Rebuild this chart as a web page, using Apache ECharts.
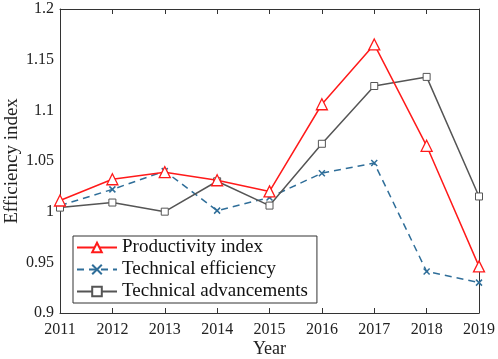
<!DOCTYPE html>
<html><head><meta charset="utf-8">
<script src="https://cdn.jsdelivr.net/npm/echarts@6/dist/echarts.min.js"></script>
<style>html,body{margin:0;padding:0;background:#fff}#c{width:498px;height:359px}</style>
</head><body><div id="c"></div>
<script>
const years = ['2011','2012','2013','2014','2015','2016','2017','2018','2019'];
const productivityIndex = [1.011, 1.032, 1.039, 1.031, 1.020, 1.106, 1.165, 1.065, 0.946];
const technicalEfficiency = [1.006, 1.022, 1.040, 1.001, 1.014, 1.038, 1.048, 0.941, 0.930];
const technicalAdvancements = [1.004, 1.009, 1.000, 1.030, 1.006, 1.067, 1.124, 1.133, 1.015];
const yTicks = [0.9, 0.95, 1, 1.05, 1.1, 1.15, 1.2];

const font = '"Liberation Serif", "Times New Roman", serif';
const chart = echarts.init(document.getElementById('c'));
const axisLine = {show: true, lineStyle: {color: '#333', width: 1}};
chart.setOption({
  animation: false,
  textStyle: {fontFamily: font},
  grid: {left: 60, right: 19, top: 9, bottom: 46, outerBoundsMode: 'none', containLabel: false},
  xAxis: [{
    type: 'category', data: years, boundaryGap: false,
    axisLine: axisLine,
    axisTick: {inside: true, length: 5, alignWithLabel: true, lineStyle: {color: '#333'}},
    axisLabel: {fontFamily: font, fontSize: 16, color: '#222', margin: 9},
    name: 'Year', nameLocation: 'middle', nameGap: 27, nameMoveOverlap: false,
    nameTextStyle: {fontFamily: font, fontSize: 18, color: '#222'}
  }, {
    type: 'category', data: years, boundaryGap: false, position: 'top',
    axisLine: axisLine,
    axisTick: {inside: true, length: 5, lineStyle: {color: '#333'}},
    axisLabel: {show: false}
  }],
  yAxis: [{
    type: 'value', min: 0.9, max: 1.2, interval: 0.05,
    axisLine: axisLine, splitLine: {show: false},
    axisTick: {inside: true, length: 5, lineStyle: {color: '#333'}},
    axisLabel: {fontFamily: font, fontSize: 16, color: '#222', margin: 6,
      formatter: v => { const t = yTicks.find(x => Math.abs(x - v) < 1e-6); return t === undefined ? '' : String(t); }},
    name: 'Efficiency index', nameLocation: 'middle', nameGap: 38, nameMoveOverlap: false,
    nameTextStyle: {fontFamily: font, fontSize: 19, color: '#222'}
  }, {
    type: 'value', min: 0.9, max: 1.2, interval: 0.05, position: 'right',
    axisLine: axisLine, splitLine: {show: false},
    axisTick: {inside: true, length: 5, lineStyle: {color: '#333'}},
    axisLabel: {show: false}
  }],
  legend: {
    orient: 'vertical', left: 73, top: 236,
    padding: [2, 9, 2, 3], itemGap: 3,
    itemWidth: 40, itemHeight: 12,
    backgroundColor: '#fff', borderColor: '#333', borderWidth: 1, borderRadius: 0,
    textStyle: {fontFamily: font, fontSize: 19, color: '#111'},
    data: ['Productivity index', 'Technical efficiency', 'Technical advancements']
  },
  series: [{
    name: 'Productivity index', type: 'line', data: productivityIndex,
    symbol: 'triangle', symbolSize: 11,
    lineStyle: {color: '#ff1a1a', width: 1.5},
    itemStyle: {color: '#fff', borderColor: '#ff1a1a', borderWidth: 1.3},
    z: 5
  }, {
    name: 'Technical efficiency', type: 'line', data: technicalEfficiency,
    symbol: 'path://M0,0L10,10M10,0L0,10', symbolSize: 6,
    lineStyle: {color: '#2f6e99', width: 1.5, type: [7, 5]},
    itemStyle: {color: 'none', borderColor: '#2f6e99', borderWidth: 1.5},
    z: 3
  }, {
    name: 'Technical advancements', type: 'line', data: technicalAdvancements,
    symbol: 'rect', symbolSize: 7,
    lineStyle: {color: '#555', width: 1.5},
    itemStyle: {color: '#fff', borderColor: '#555', borderWidth: 1},
    z: 4
  }]
});
</script></body></html>
